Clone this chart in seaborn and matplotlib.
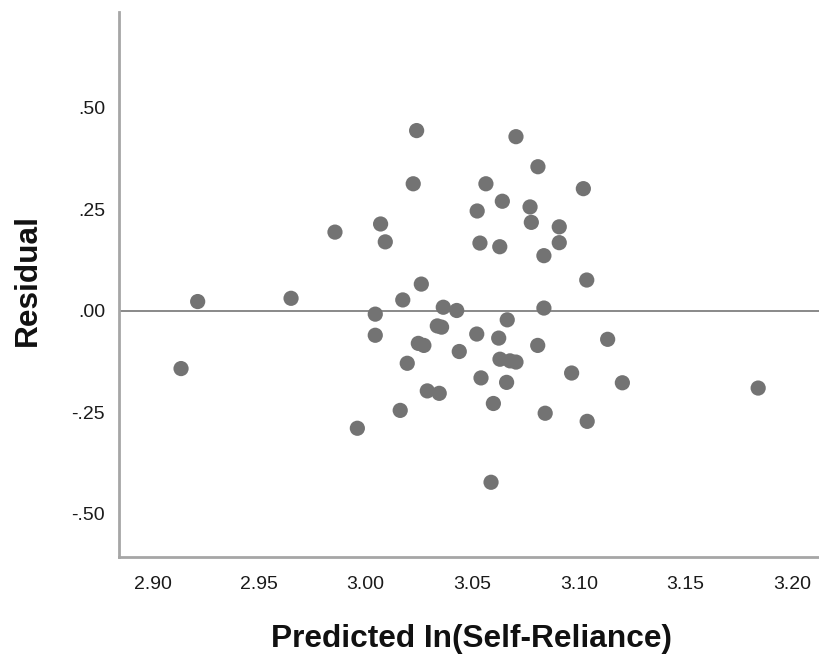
import matplotlib
matplotlib.use("Agg")
import matplotlib.pyplot as plt
import seaborn as sns
import pandas as pd

# predicted values and residuals
predicted = [2.9856, 3.0070, 3.0092, 2.9212, 2.9650, 3.0045, 3.0045, 2.9134,
             3.0174, 3.0195, 3.0162, 2.9961, 3.0239, 3.0705, 3.0808, 3.0223,
             3.0564, 3.1021, 3.0641, 3.0523, 3.0771, 3.0777, 3.0908, 3.0536,
             3.0629, 3.0908, 3.0836, 3.1037, 3.0261, 3.0364, 3.0427, 3.0836,
             3.0664, 3.0336, 3.0356, 3.0521, 3.0624, 3.0807, 3.0247, 3.0273,
             3.0439, 3.0630, 3.0677, 3.0705, 3.0541, 3.0661, 3.0966, 3.0289,
             3.0345, 3.0599, 3.0842, 3.1039, 3.0588, 3.1135, 3.1204, 3.1841]
residual = [0.194, 0.214, 0.170, 0.023, 0.031, -0.008, -0.060, -0.142,
            0.027, -0.129, -0.245, -0.289, 0.444, 0.429, 0.355, 0.313,
            0.313, 0.301, 0.270, 0.246, 0.256, 0.218, 0.207, 0.167,
            0.158, 0.168, 0.136, 0.076, 0.066, 0.009, 0.001, 0.007,
            -0.022, -0.037, -0.040, -0.057, -0.067, -0.085, -0.080, -0.085,
            -0.100, -0.119, -0.123, -0.126, -0.165, -0.176, -0.153, -0.197,
            -0.203, -0.228, -0.252, -0.272, -0.422, -0.070, -0.177, -0.190]

x_ticks = [2.90, 2.95, 3.00, 3.05, 3.10, 3.15, 3.20]
x_tick_labels = ["2.90", "2.95", "3.00", "3.05", "3.10", "3.15", "3.20"]
y_ticks = [-0.50, -0.25, 0.00, 0.25, 0.50]
y_tick_labels = ["-.50", "-.25", ".00", ".25", ".50"]

df = pd.DataFrame({"Predicted": predicted, "Residual": residual})

sns.set_style("white")
plt.rcParams["font.family"] = ["Liberation Sans", "DejaVu Sans"]

fig = plt.figure(figsize=(8.2, 6.58), dpi=100)
ax = fig.add_axes([119 / 820, 101 / 658, 701 / 820, 545 / 658])

# zero reference line
ax.axhline(0, color="#808080", lw=1.3, zorder=1)

sns.scatterplot(data=df, x="Predicted", y="Residual", ax=ax,
                color="#737373", s=120, edgecolor="none", zorder=2)

ax.set_xlim(2.8843, 3.2131)
ax.set_ylim(-0.606, 0.736)
ax.set_xticks(x_ticks)
ax.set_xticklabels(x_tick_labels)
ax.set_yticks(y_ticks)
ax.set_yticklabels(y_tick_labels)
ax.tick_params(axis="both", length=0, labelsize=14, colors="#1a1a1a")
ax.tick_params(axis="x", pad=14)
ax.tick_params(axis="y", pad=10)

for side in ["top", "right"]:
    ax.spines[side].set_visible(False)
for side in ["left", "bottom"]:
    ax.spines[side].set_color("#a6a6a6")
    ax.spines[side].set_linewidth(2)

ax.set_xlabel("Predicted In(Self-Reliance)", fontsize=22.8, fontweight="bold", color="#111111")
ax.set_ylabel("Residual", fontsize=22.8, fontweight="bold", color="#111111")
ax.xaxis.set_label_coords(0.503, -0.150)
ax.xaxis.label.set_va("center")
ax.yaxis.set_label_coords(-0.13, 0.508)
ax.yaxis.label.set_va("center")
ax.yaxis.label.set_ha("center")

fig.savefig("out.png", dpi=100)
